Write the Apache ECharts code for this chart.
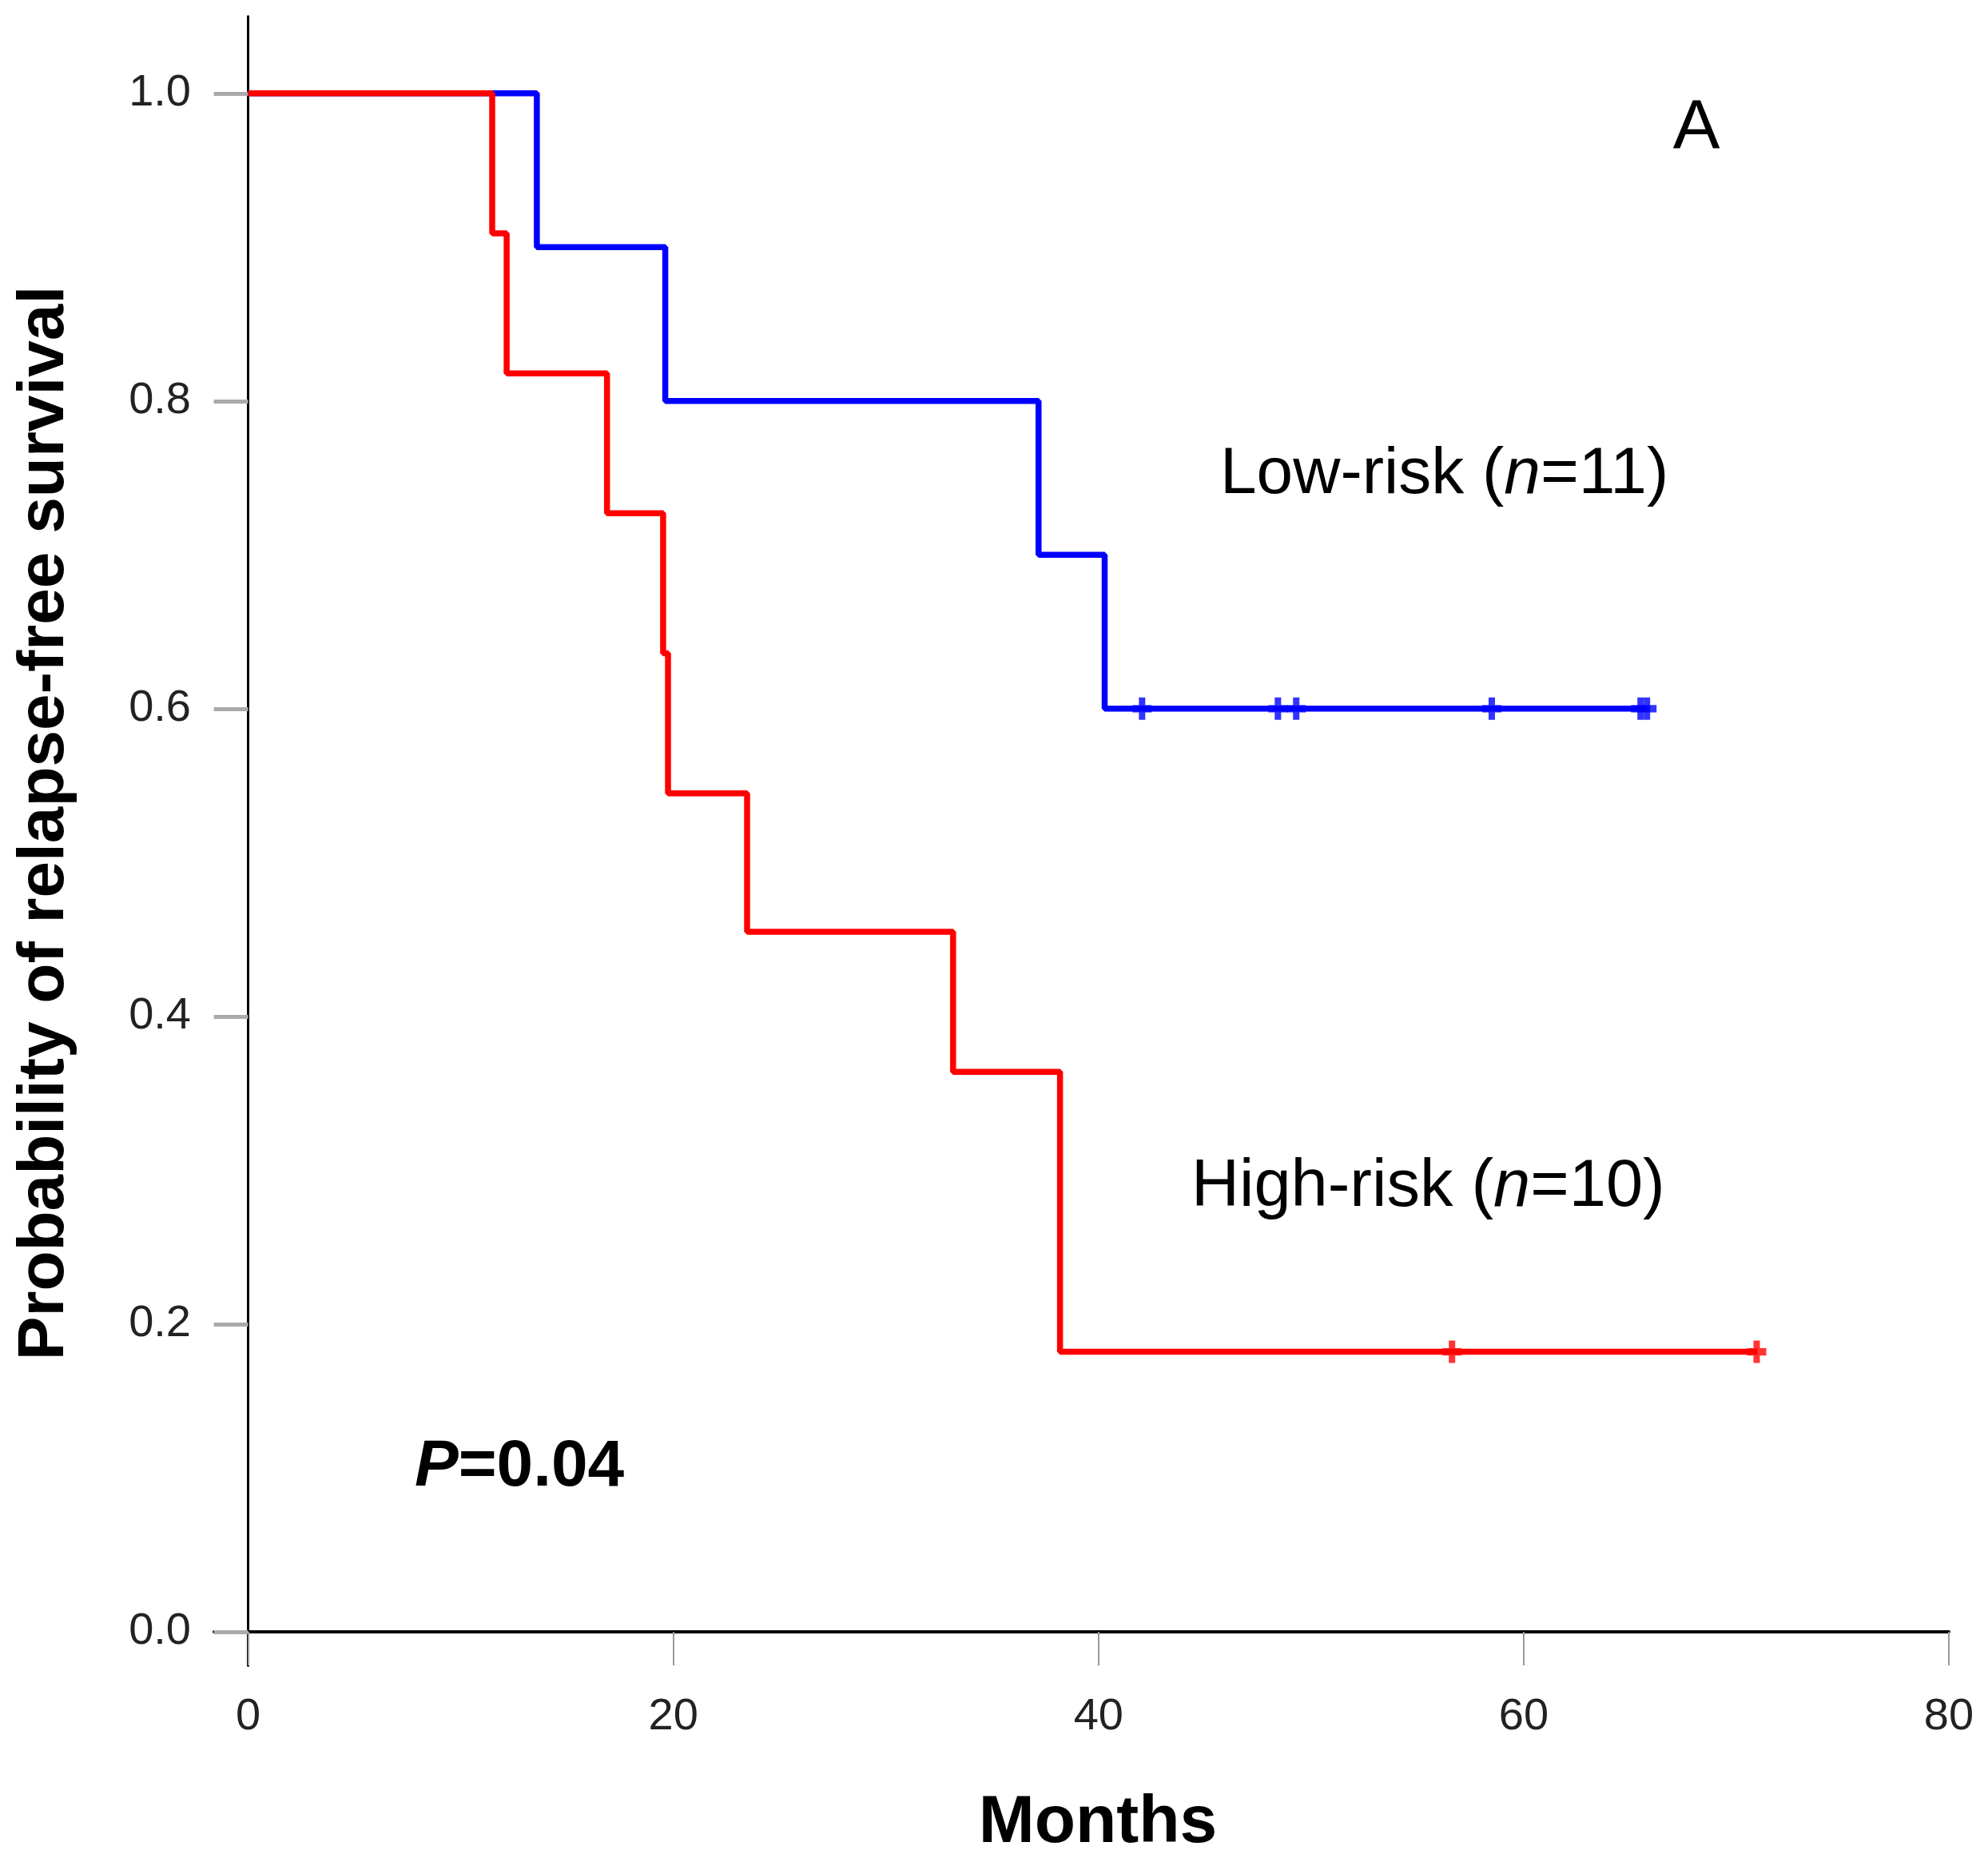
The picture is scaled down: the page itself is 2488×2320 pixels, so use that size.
<!DOCTYPE html>
<html>
<head>
<meta charset="utf-8">
<script src="https://cdn.jsdelivr.net/npm/echarts@6/dist/echarts.min.js"></script>
<style>
html,body{margin:0;padding:0;background:#fff;}
#chart{width:2488px;height:2320px;}
</style>
</head>
<body>
<div id="chart"></div>
<script>
// ---- data ----
const xTicks = [0, 20, 40, 60, 80];
const yTicks = [0, 0.2, 0.4, 0.6, 0.8, 1.0];

// Low-risk (blue) Kaplan-Meier steps: [month, survival]
const lowRiskSteps = [[0, 1.0], [13.58, 0.9], [19.62, 0.8], [37.18, 0.7], [40.29, 0.6], [65.8, 0.6]];
const lowRiskCensored = [[42.05, 0.6], [48.44, 0.6], [49.3, 0.6], [58.5, 0.6], [65.5, 0.6], [65.8, 0.6]];

// High-risk (red) Kaplan-Meier steps
const highRiskSteps = [[0, 1.0], [11.48, 0.909], [12.16, 0.818], [16.88, 0.727], [19.52, 0.636],
  [19.75, 0.545], [23.47, 0.455], [33.16, 0.364], [38.19, 0.182], [71.0, 0.182]];
const highRiskCensored = [[56.63, 0.182], [70.96, 0.182]];

const chart = echarts.init(document.getElementById('chart'), null, {renderer: 'canvas'});
const FONT = '"Liberation Sans", Arial, Helvetica, sans-serif';
const plusPath = 'path://M8,0h8v8h8v8h-8v8h-8v-8h-8v-8h8z';

chart.setOption({
  backgroundColor: '#ffffff',
  animation: false,
  grid: {left: 268, right: 49, top: 20.5, bottom: 235.7, containLabel: false},
  xAxis: {
    type: 'value', min: -1.6, max: 80,
    splitLine: {show: false},
    axisLine: {show: true, onZero: true, lineStyle: {color: '#000', width: 4}},
    axisTick: {show: true, customValues: xTicks, length: 42, lineStyle: {color: '#999', width: 2}},
    axisLabel: {show: true, customValues: xTicks, margin: 36, fontSize: 56, fontFamily: FONT, color: '#222'}
  },
  yAxis: {
    type: 'value', min: -0.022, max: 1.05,
    splitLine: {show: false},
    axisLine: {show: true, onZero: true, lineStyle: {color: '#000', width: 3}},
    axisTick: {show: true, customValues: yTicks, length: 43, lineStyle: {color: '#aaa', width: 5}},
    axisLabel: {show: true, customValues: yTicks, margin: 29, fontSize: 56, fontFamily: FONT, color: '#222',
      formatter: v => v.toFixed(1)}
  },
  series: [
    {type: 'line', name: 'Low-risk', step: 'end', data: lowRiskSteps, showSymbol: false, symbol: 'none',
      lineStyle: {color: '#0000ff', width: 7.5}, z: 3},
    {type: 'scatter', data: lowRiskCensored, symbol: plusPath, symbolSize: [24, 28],
      itemStyle: {color: '#0000ff'}, z: 4},
    {type: 'line', name: 'High-risk', step: 'end', data: highRiskSteps, showSymbol: false, symbol: 'none',
      lineStyle: {color: '#ff0000', width: 7.5}, z: 5},
    {type: 'scatter', data: highRiskCensored, symbol: plusPath, symbolSize: [24, 28],
      itemStyle: {color: '#ff0000'}, z: 6}
  ],
  graphic: [
    {type: 'text', x: 2123, y: 162, style: {text: 'A', font: '88px ' + FONT, fill: '#000', align: 'center', verticalAlign: 'middle'}},
    {type: 'text', x: 1527, y: 594, style: {
      text: '{a|Low-risk (}{i|n}{a|=11)}', align: 'left', verticalAlign: 'middle',
      rich: {a: {fontSize: 82, fontFamily: FONT, fill: '#000'}, i: {fontSize: 82, fontFamily: FONT, fontStyle: 'italic', fill: '#000'}}}},
    {type: 'text', x: 1491, y: 1486, style: {
      text: '{a|High-risk (}{i|n}{a|=10)}', align: 'left', verticalAlign: 'middle',
      rich: {a: {fontSize: 83, fontFamily: FONT, fill: '#000'}, i: {fontSize: 83, fontFamily: FONT, fontStyle: 'italic', fill: '#000'}}}},
    {type: 'text', x: 519, y: 1836, style: {
      text: '{i|P}{a|=0.04}', align: 'left', verticalAlign: 'middle',
      rich: {a: {fontSize: 82, fontFamily: FONT, fontWeight: 'bold', fill: '#000'}, i: {fontSize: 82, fontFamily: FONT, fontWeight: 'bold', fontStyle: 'italic', fill: '#000'}}}},
    {type: 'text', x: 1374, y: 2282, style: {text: 'Months', font: 'bold 84px ' + FONT, fill: '#000', align: 'center', verticalAlign: 'middle'}},
    {type: 'text', x: 56, y: 1030, rotation: Math.PI / 2, style: {text: 'Probability of relapse-free survival', font: 'bold 82px ' + FONT, fill: '#000', align: 'center', verticalAlign: 'middle'}}
  ]
});
</script>
</body>
</html>
